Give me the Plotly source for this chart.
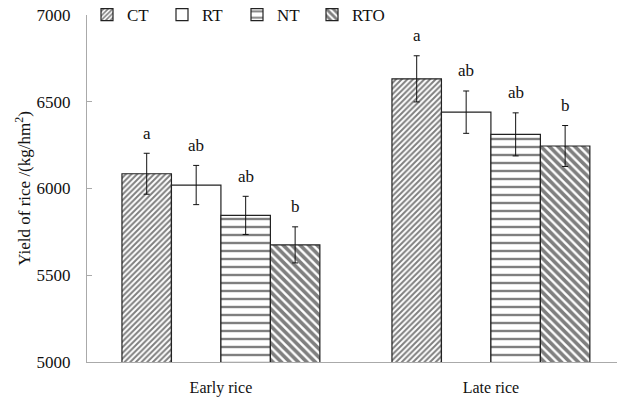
import plotly.graph_objects as go

categories = ["Early rice", "Late rice"]
treatments = ["CT", "RT", "NT", "RTO"]
yield_ct = [6085, 6632]
yield_rt = [6020, 6440]
yield_nt = [5845, 6312]
yield_rto = [5675, 6245]
err_ct = [118, 133]
err_rt = [113, 122]
err_nt = [110, 124]
err_rto = [104, 118]
letters_ct = ["a", "a"]
letters_rt = ["ab", "ab"]
letters_nt = ["ab", "ab"]
letters_rto = ["b", "b"]
y_ticks = [5000, 5500, 6000, 6500, 7000]

values = [yield_ct, yield_rt, yield_nt, yield_rto]
errors = [err_ct, err_rt, err_nt, err_rto]
letters = [letters_ct, letters_rt, letters_nt, letters_rto]
patterns = [
    dict(shape="/", size=4, solidity=0.5, fgcolor="black", bgcolor="white"),
    dict(shape="", fgcolor="black", bgcolor="white"),
    dict(shape="-", size=8, solidity=0.3, fgcolor="black", bgcolor="white"),
    dict(shape="\\", size=6, solidity=0.6, fgcolor="black", bgcolor="white"),
]

bargap = 0.267
FONT = "Liberation Serif"
fig = go.Figure()
for name, v, e, p in zip(treatments, values, errors, patterns):
    fig.add_trace(go.Bar(
        name=name, x=[0, 1], y=v,
        marker=dict(color="white", pattern=p, line=dict(color="#222", width=1.2)),
        error_y=dict(type="data", array=e, color="#111", thickness=1, width=3),
    ))

n = len(treatments)
bw = (1 - bargap) / n
annotations = []
for i in range(n):
    off = -(1 - bargap) / 2 + (i + 0.5) * bw
    for j in range(len(categories)):
        annotations.append(dict(
            x=j + off, y=values[i][j] + errors[i][j], text=letters[i][j],
            showarrow=False, yanchor="middle", yshift=20,
            font=dict(family=FONT, size=17, color="#111"),
        ))

fig.update_layout(
    width=617, height=403,
    margin=dict(l=87, r=0, t=15, b=41, autoexpand=False),
    paper_bgcolor="white", plot_bgcolor="white",
    barmode="group", bargap=bargap, bargroupgap=0,
    font=dict(family=FONT, size=16, color="#111"),
    showlegend=True,
    legend=dict(orientation="h", x=0.0, y=1.0, xanchor="left", yanchor="middle",
                font=dict(family=FONT, size=17, color="#111"),
                bgcolor="rgba(0,0,0,0)", itemwidth=30, entrywidth=30, entrywidthmode="pixels"),
    annotations=annotations,
    xaxis=dict(
        range=[-0.496, 1.467], tickvals=[0, 1], ticktext=categories,
        showline=True, linecolor="#aaa", linewidth=1, ticks="", showgrid=False,
        zeroline=False, automargin=False, ticklabelstandoff=11,
        tickfont=dict(family=FONT, size=16, color="#111"),
    ),
    yaxis=dict(
        range=[5000, 7000], tickvals=y_ticks, showline=True, linecolor="#aaa",
        linewidth=1, ticks="inside", ticklen=5, tickcolor="#aaa", showgrid=False,
        zeroline=False, automargin=False, ticklabelstandoff=12, ticklabeloverflow="allow",
        tickfont=dict(family=FONT, size=17, color="#111"),
        title=dict(text="Yield of rice /(kg/hm<sup>2</sup>)", standoff=1,
                   font=dict(family=FONT, size=17, color="#111")),
    ),
)

fig.write_html("out.html", config={"displayModeBar": False},
               post_script="document.body.style.margin='0';")
